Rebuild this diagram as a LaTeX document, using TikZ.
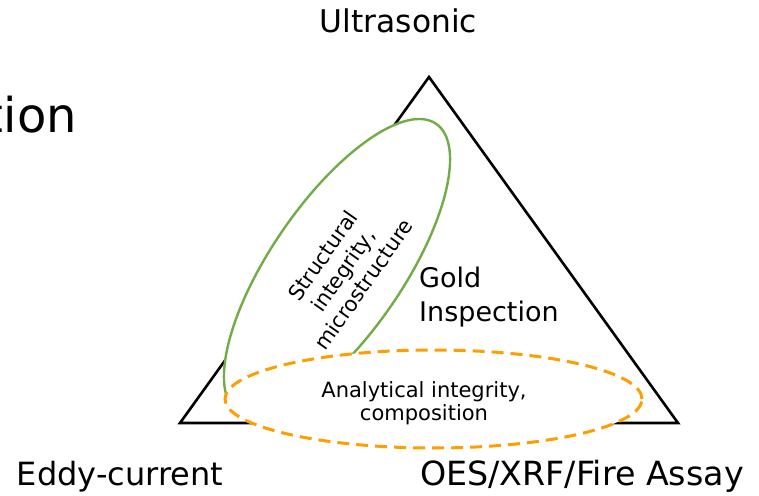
\documentclass[tikz,border=0pt]{standalone}
\usepackage{fontspec}
\setmainfont{DejaVu Sans}
\definecolor{ellgreen}{RGB}{112,173,71}
\definecolor{ellorange}{RGB}{255,158,0}
\begin{document}
\begin{tikzpicture}[x=1pt,y=1pt,
  tri/.style={draw=black,line width=2.6pt,line join=miter},
  greenell/.style={draw=ellgreen,fill=white,line width=2.4pt},
  orangeell/.style={draw=ellorange,fill=white,line width=3pt,dash pattern=on 12pt off 7pt},
  big/.style={inner sep=0pt},
  mid/.style={inner sep=0pt,align=left,font=\fontsize{27}{34}\selectfont},
  small/.style={inner sep=0pt,align=center,font=\fontsize{21}{23}\selectfont}]
\useasboundingbox (0,0) rectangle (759,495);
\clip (0,0) rectangle (759,495);
% triangle
\coordinate (apex) at (429,418);
\coordinate (bl) at (180,72);
\coordinate (br) at (678,72);
\draw[tri] (apex) -- (bl) -- (br) -- cycle;
% ellipses
\coordinate (gc) at (337,227);
\draw[greenell,rotate around={55.5:(gc)}] (gc) ellipse [x radius=175, y radius=66];
\coordinate (oc) at (433.5,96);
\draw[orangeell] (oc) ellipse [x radius=208.5, y radius=49];
% labels
\node[big,anchor=base,font=\fontsize{31.3}{38}\selectfont] (ultra) at (398.5,462) {Ultrasonic};
\node[big,anchor=base,font=\fontsize{32}{38}\selectfont] (eddy) at (120,10) {Eddy-current};
\node[big,anchor=base,font=\fontsize{33.3}{38}\selectfont] (oes) at (582,10) {OES/XRF/Fire Assay};
\node[mid,anchor=base west] (gold) at (419,173) {Gold\\Inspection};
\node[small,anchor=base] (anal) at (424,75) {Analytical integrity,\\composition};
\node[small,align=center,rotate=55,font=\fontsize{21}{25}\selectfont] (struct) at (343,225) {Structural\\integrity,\\microstructure};
\node[inner sep=0pt,anchor=base east,font=\fontsize{48}{56}\selectfont] (title) at (77,362) {tion};
\end{tikzpicture}
\end{document}
